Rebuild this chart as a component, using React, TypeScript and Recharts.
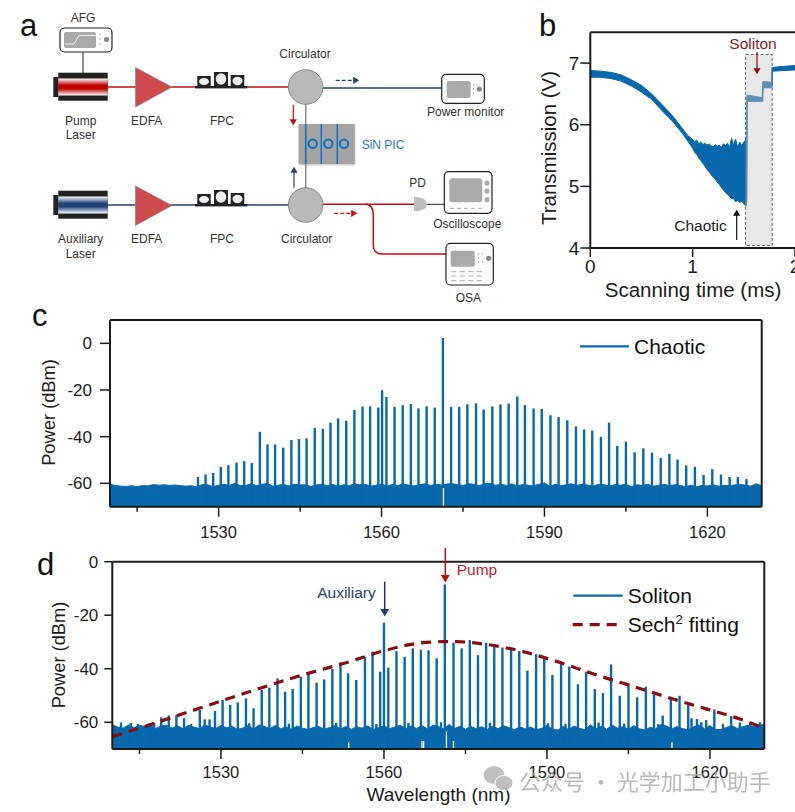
import {
  Area,
  Bar,
  ComposedChart,
  Line,
  ReferenceArea,
  ReferenceLine,
  XAxis,
  YAxis,
} from "recharts";

const BLUE = "#0868ac";
const DARK = "#1c1c1c";
const NAVY = "#24406f";
const RED = "#c00d12";
const FONT = "'Liberation Sans', Arial, sans-serif";

// panel b, transmission trace (ms, V)
const scanTimes = [
  0, 0.1, 0.2, 0.3, 0.4, 0.5, 0.6, 0.7, 0.8, 0.9, 0.95, 1.0, 1.02, 1.04, 1.06, 1.08, 1.1, 1.12, 1.14,
  1.16, 1.18, 1.2, 1.22, 1.24, 1.26, 1.28, 1.3, 1.32, 1.34, 1.36, 1.38, 1.4, 1.42, 1.44, 1.46, 1.48,
  1.5, 1.525, 1.53, 1.535, 1.68, 1.685, 1.69, 1.77, 1.775, 1.78, 1.9, 2.0,
];
const traceUpper = [
  6.88, 6.87, 6.85, 6.81, 6.73, 6.64, 6.5, 6.33, 6.15, 5.94, 5.83, 5.76, 5.72, 5.75, 5.69, 5.72, 5.68,
  5.7, 5.67, 5.69, 5.66, 5.64, 5.68, 5.65, 5.67, 5.63, 5.69, 5.66, 5.7, 5.64, 5.78, 5.68, 5.77, 5.63,
  5.72, 5.66, 5.72, 5.76, 6.48, 6.48, 6.44, 6.7, 6.7, 6.69, 6.93, 6.93, 6.95, 6.96,
];
const traceLower = [
  6.77, 6.77, 6.75, 6.71, 6.63, 6.53, 6.41, 6.23, 6.06, 5.86, 5.74, 5.62, 5.55, 5.52, 5.46, 5.42, 5.37,
  5.33, 5.27, 5.24, 5.19, 5.15, 5.12, 5.07, 5.03, 4.98, 4.94, 4.9, 4.87, 4.84, 4.8, 4.8, 4.75, 4.77,
  4.74, 4.76, 4.72, 4.68, 4.8, 6.38, 6.38, 6.38, 6.6, 6.6, 6.6, 6.87, 6.88, 6.89,
];

// panel c, chaotic comb
const chaoticLines = [
  1526.2, 1527.6, 1529.0, 1530.4, 1531.8, 1533.3, 1534.7, 1536.1, 1537.6, 1539.0, 1540.4, 1541.9, 1543.4, 1544.8,
  1546.2, 1547.7, 1549.2, 1550.6, 1552.0, 1553.5, 1555.0, 1556.5, 1557.9, 1559.4, 1560.1, 1560.9, 1562.4, 1563.9,
  1565.4, 1566.8, 1568.3, 1569.8, 1571.3, 1572.8, 1574.3, 1575.8, 1577.4, 1578.8, 1580.4, 1581.9, 1583.4, 1585.0,
  1586.4, 1588.0, 1589.5, 1591.1, 1592.6, 1594.2, 1595.8, 1597.3, 1598.8, 1600.4, 1601.9, 1603.4, 1605.0, 1606.6,
  1608.2, 1609.8, 1611.4, 1613.0, 1614.5, 1616.1, 1617.7, 1619.3, 1620.9, 1622.5, 1624.1, 1625.6, 1627.2,
];
const chaoticPeaks = [
  -57.3, -56.2, -55.5, -53, -52.2, -51.1, -50.5, -51.3, -37.9, -43.3, -43.3, -44.7, -41.4, -41, -40.7, -36.2, -36.6,
  -34, -32.2, -33.2, -28.5, -27.1, -27, -27.5, -20.1, -23, -27.2, -26.5, -26, -27.9, -27, -27.5, 2.3, -27.2, -27.2,
  -26.1, -25.7, -28.4, -27, -26.2, -25.8, -22.8, -26.5, -27.9, -28.1, -30.8, -31.6, -33, -35.6, -36.9, -37.4, -40.1,
  -34, -44, -42.1, -46.7, -45, -46.8, -49.1, -47.4, -49.8, -52.3, -52.9, -56.4, -53.9, -56.2, -57.3, -57.3, -58.2,
];
// one reading per nm from 1510 nm
const chaoticFloor = [
  -60.4, -60.9, -61.2, -61.3, -61, -61.4, -60.9, -61.1, -60.5, -60.8, -60.6, -60.9, -60.7, -61, -61.2, -61, -61.6,
  -60.5, -60.6, -61.4, -60.8, -60.4, -60.9, -59.9, -61, -60.9, -60.2, -61, -60.4, -60, -61.2, -60.8, -60.5, -61.1,
  -60.4, -60.7, -60.6, -61.3, -60.7, -60.4, -61, -60.5, -61.2, -60.6, -61, -60.2, -60.6, -60.4, -61.2, -60.8, -60.3,
  -61.1, -60.5, -60.9, -60.2, -60.8, -61.1, -60.6, -60.2, -60.9, -60.4, -60.7, -60.3, -60.1, -60.6, -60.9, -60.2,
  -60.4, -61, -60.2, -60, -60.8, -60.4, -60.9, -60.2, -61.2, -60.5, -60.8, -61, -60.4, -59.8, -61.3, -60.4, -61,
  -60.6, -60.2, -60.9, -60.3, -60.8, -61.1, -60.4, -60.6, -61.2, -60.5, -60.8, -60.4, -61.4, -60.6, -60.9, -60.4,
  -61.2, -60.9, -60.4, -61, -60.6, -60.9, -61.4, -60.8, -61.5, -60.9, -61.1, -60.6, -61.2, -60.9, -61, -60.7, -60.4,
  -60.8, -61.2, -60.2, -61,
];
const chaoticNotches = [1571.4];
const chaoticNotchTops = [-62];

// panel d, soliton comb
const solitonLines = [
  1519.0, 1520.4, 1521.8, 1523.2, 1526.1, 1528.9, 1530.3, 1531.7, 1533.1, 1534.6, 1536.0, 1537.5, 1538.9, 1540.4,
  1541.8, 1543.2, 1544.7, 1546.1, 1547.6, 1549.0, 1550.5, 1552.0, 1553.4, 1554.9, 1556.5, 1557.9, 1559.3, 1560.0,
  1560.8, 1562.3, 1563.8, 1565.3, 1566.8, 1568.2, 1569.7, 1571.2, 1572.8, 1574.3, 1575.8, 1577.3, 1578.8, 1580.3,
  1581.8, 1583.4, 1584.9, 1586.4, 1588.0, 1589.5, 1591.0, 1592.6, 1594.1, 1595.7, 1597.2, 1598.8, 1600.3, 1601.8,
  1603.4, 1605.0, 1606.6, 1608.2, 1609.7, 1611.3, 1612.8, 1614.4, 1616.0, 1617.6, 1619.3, 1620.8, 1623.9,
  // small noise spikes
  1511.6, 1513.4, 1514.7, 1516.8, 1517.7, 1524.5, 1527.0, 1527.9, 1535.2, 1542.5, 1551.2, 1558.6, 1564.5, 1570.5,
  1579.5, 1590.2, 1593.4, 1599.5, 1604.2, 1610.5, 1616.6, 1618.4, 1622.4, 1625.5, 1627.4, 1629.2,
];
const solitonPeaks = [
  -58.2, -57.5, -57.3, -58.5, -55.4, -55.8, -51.7, -53.5, -52.6, -51.1, -54.8, -47.9, -47.1, -43.6, -48.6, -47.6,
  -43, -41.3, -45.2, -44, -40.1, -37.6, -41.7, -44.2, -35.5, -33.6, -41.1, -22.8, -39.6, -33.4, -35.6, -32.4, -32.9,
  -33.1, -36.1, -8.5, -30.3, -32.4, -29.3, -34.9, -30.3, -31.5, -32.1, -33, -33.4, -40.7, -34.6, -36.1, -42.3, -38,
  -39.2, -45.8, -41.1, -47.6, -49.1, -38.4, -50.1, -45.6, -50.7, -46.7, -49.6, -57.5, -51.3, -50.1, -53.5, -58.8,
  -59.2, -55.2, -57.7,
  -60.1, -60.3, -60.6, -60.4, -60.2, -60.6, -58.9, -58.9, -60.4, -60.5, -60.2, -60.7, -60.3, -60,
  -60.2, -60.4, -60.6, -60.1, -60.5, -60.7, -58.5, -60, -60.6, -60.1, -60.4, -60,
];
const solitonFloor = [
  -61, -61.8, -62.2, -61, -62, -61.2, -61.6, -61, -62.3, -61.4, -61.1, -62.2, -61.3, -62.4, -61.2, -61.8, -62.4,
  -61, -61.7, -62.4, -61.2, -62.1, -61.5, -62.6, -62.2, -61.1, -62.6, -61, -61.5, -62.4, -61.2, -62.4, -61.8, -62.6,
  -61.4, -62.2, -62.7, -62, -61.6, -62.6, -62, -61.2, -62.5, -61.6, -62.6, -61.7, -62.2, -61.4, -62.7, -62, -61.3,
  -62.4, -61.8, -61.1, -62.4, -61.4, -62.3, -61.2, -62.5, -61.1, -61.6, -62.5, -60.8, -62.3, -61.5, -62.6, -61.6,
  -62.4, -61.7, -62.7, -61.5, -62.4, -61.3, -62, -62.8, -61.7, -62.5, -61.8, -62.8, -62.3, -61.2, -62.5, -62.9,
  -61.6, -62.7, -61.4, -62.3, -62.8, -61, -62.4, -61.5, -62.6, -61.1, -62.2, -61.7, -62.6, -61.3, -62.4, -62.9,
  -61.9, -62.4, -60.8, -61.4, -62.5, -61.6, -62.4, -62.8, -61.7, -61, -62.4, -61.3, -62.6, -62.8, -62, -61.2,
  -62.3, -61.7, -61.1, -61.6, -61.1, -60.9,
];
const solitonNotches = [1553.5, 1567.0, 1567.3, 1571.5, 1572.8, 1613.0];
const solitonNotchTops = [-67.5, -67, -67, -63.5, -67, -67.5];

// hand-read points along the dashed fit
const fitWavelengths = [
  1510, 1515.9, 1526, 1535.2, 1544.4, 1553.6, 1559.8, 1565.9, 1570.8, 1573.3, 1578.8, 1585.6, 1592.3, 1599.1, 1606.5,
  1613.2, 1619.3, 1625.5, 1630,
];
const fitPower = [
  -65.4, -61.6, -54.8, -48.6, -42.7, -37.4, -33.4, -30.6, -29.9, -29.9, -30.9, -33.6, -37.6, -42.3, -47, -51.3, -55,
  -58.8, -62.2,
];

const wavelengthTicks = [1515, 1530, 1545, 1560, 1575, 1590, 1605, 1620];
const labelledWavelengths = [1530, 1560, 1590, 1620];
const chaoticPowerTicks = [0, -20, -40, -60];
const solitonPowerTicks = [0, -20, -40, -60];
const timeTicks = [0, 1, 2];
const voltTicks = [4, 5, 6, 7];

type Row = { w: number; floor?: number; fit?: number; bar?: [number, number]; notch?: boolean };

function buildSpectrum(
  lines: number[],
  peaks: number[],
  floor: number[],
  notches: number[],
  notchTops: number[],
  fit?: { w: number[]; p: number[] },
): Row[] {
  const rows: Row[] = floor.map((v, i) => ({ w: 1510 + i, floor: v }));
  lines.forEach((w, i) => rows.push({ w, bar: [-70, peaks[i]] }));
  notches.forEach((w, i) => rows.push({ w, bar: [-70, notchTops[i]], notch: true }));
  fit?.w.forEach((w, i) => rows.push({ w, fit: fit.p[i] }));
  return rows.sort((a, b) => a.w - b.w);
}

const chaoticRows = buildSpectrum(chaoticLines, chaoticPeaks, chaoticFloor, chaoticNotches, chaoticNotchTops);
const solitonRows = buildSpectrum(solitonLines, solitonPeaks, solitonFloor, solitonNotches, solitonNotchTops, {
  w: fitWavelengths,
  p: fitPower,
});
const traceRows = scanTimes.map((t, i) => ({ t, band: [traceLower[i], traceUpper[i]] }));

function WavelengthTick({ x, y, payload, labelDy }: any) {
  const major = labelledWavelengths.includes(payload.value);
  return (
    <g>
      <line x1={x} x2={x} y1={y} y2={y + (major ? 10 : 5)} stroke={DARK} strokeWidth={1.5} />
      {major && (
        <text x={x} y={y + labelDy} textAnchor="middle" fontSize={16.5} fill={DARK} fontFamily={FONT}>
          {payload.value}
        </text>
      )}
    </g>
  );
}

// comb lines keep a fixed pixel width whatever the row spacing is
function CombLine(props: any) {
  const { x, y, width, height, payload } = props;
  if (!height) return null;
  const w = payload.notch ? 1.3 : 2.4;
  return <rect x={x + width / 2 - w / 2} y={y} width={w} height={height} fill={payload.notch ? "#fff" : BLUE} />;
}

function yTitle(value: string, x: number, y: number, size: number) {
  return {
    content: () => (
      <text
        transform={`rotate(-90 ${x} ${y})`}
        x={x}
        y={y}
        textAnchor="middle"
        dominantBaseline="central"
        fontSize={size}
        fill={DARK}
        fontFamily={FONT}
      >
        {value}
      </text>
    ),
  };
}

function xTitle(value: string, x: number, y: number, size: number) {
  return {
    content: () => (
      <text x={x} y={y} textAnchor="middle" fontSize={size} fill={DARK} fontFamily={FONT}>
        {value}
      </text>
    ),
  };
}

function Spectrum({
  rows,
  top,
  height,
  left,
  right,
  marginTop,
  axisHeight,
  yMax,
  powerTicks,
  labelDy,
  tickLen,
  tickGap,
  xLabel,
  yLabel,
}: any) {
  return (
    <div style={{ position: "absolute", left: 0, top }}>
      <ComposedChart
        width={795}
        height={height}
        data={rows}
        margin={{ top: marginTop, right: 795 - right, bottom: 0, left: left - 70 }}
      >
        <XAxis
          dataKey="w"
          type="number"
          domain={[1510, 1630]}
          ticks={wavelengthTicks}
          interval={0}
          tick={<WavelengthTick labelDy={labelDy} />}
          tickSize={0}
          tickMargin={0}
          tickLine={false}
          axisLine={{ stroke: DARK, strokeWidth: 2 }}
          height={axisHeight}
          label={xLabel}
        />
        <YAxis
          type="number"
          domain={[-70, yMax]}
          ticks={powerTicks}
          interval={0}
          width={70}
          tickSize={tickLen}
          tickMargin={tickGap}
          tick={{ fontSize: 17, fill: DARK, fontFamily: FONT }}
          tickLine={{ stroke: DARK, strokeWidth: 1.5 }}
          axisLine={{ stroke: DARK, strokeWidth: 2 }}
          label={yLabel}
        />
        <Area
          dataKey="floor"
          type="linear"
          baseValue={-70}
          connectNulls
          stroke={BLUE}
          strokeWidth={1}
          fill={BLUE}
          fillOpacity={1}
          dot={false}
          activeDot={false}
          isAnimationActive={false}
        />
        <Bar dataKey="bar" shape={<CombLine />} isAnimationActive={false} />
        <Line
          dataKey="fit"
          type="monotone"
          connectNulls
          stroke="#8a0c10"
          strokeWidth={3.2}
          strokeDasharray="10 7"
          dot={false}
          activeDot={false}
          isAnimationActive={false}
        />
        <ReferenceLine x={1630} stroke={DARK} strokeWidth={2} />
        <ReferenceLine y={yMax} stroke={DARK} strokeWidth={2} />
      </ComposedChart>
    </div>
  );
}

function TracePanel() {
  return (
    <div style={{ position: "absolute", left: 520, top: 0 }}>
      <ComposedChart
        width={275}
        height={310}
        data={traceRows}
        margin={{ top: 32.3, right: 0, bottom: 0, left: 10.3 }}
      >
        <XAxis
          dataKey="t"
          type="number"
          domain={[0, 2]}
          ticks={timeTicks}
          interval={0}
          height={62}
          tickSize={9}
          tickMargin={3}
          tick={{ fontSize: 19, fill: DARK, fontFamily: FONT }}
          tickLine={{ stroke: DARK, strokeWidth: 1.5 }}
          axisLine={{ stroke: DARK, strokeWidth: 2 }}
          label={xTitle("Scanning time (ms)", 173, 296.5, 20.5)}
        />
        <YAxis
          type="number"
          domain={[4, 7.5]}
          ticks={voltTicks}
          interval={0}
          width={60}
          tickSize={10}
          tickMargin={1}
          tick={{ fontSize: 19, fill: DARK, fontFamily: FONT }}
          tickLine={{ stroke: DARK, strokeWidth: 1.5 }}
          axisLine={{ stroke: DARK, strokeWidth: 2 }}
          label={yTitle("Transmission (V)", 28.3, 148, 20.5)}
        />
        <Area
          dataKey="band"
          type="linear"
          stroke={BLUE}
          strokeWidth={1}
          fill={BLUE}
          fillOpacity={1}
          dot={false}
          activeDot={false}
          isAnimationActive={false}
        />
        <ReferenceArea
          x1={1.517}
          x2={1.777}
          y1={4.04}
          y2={7.14}
          fill="#c8c8c8"
          fillOpacity={0.42}
          stroke="#666666"
          strokeDasharray="3 2"
        />
        <ReferenceLine y={7.5} stroke={DARK} strokeWidth={2} />
      </ComposedChart>
    </div>
  );
}

function Laser({ y, id }: { y: number; id: string }) {
  return (
    <g>
      <rect x={53.3} y={y - 10} width={5} height={20} fill="#222" />
      <rect x={58.3} y={y - 14.3} width={49.4} height={28} fill="#222" />
      <rect x={58.3} y={y - 8.5} width={49.4} height={17} fill={`url(#${id})`} />
    </g>
  );
}

function Fpc({ y }: { y: number }) {
  return (
    <g>
      <rect x={197.3} y={y - 11} width={13.4} height={11} fill="#222" />
      <rect x={214} y={y - 15} width={14} height={15} fill="#222" />
      <rect x={230.7} y={y - 12} width={13.6} height={12} fill="#222" />
      <ellipse cx={204} cy={y - 5.5} rx={5} ry={3.5} fill="#eee" />
      <ellipse cx={221} cy={y - 8} rx={5.3} ry={5.8} fill="#eee" />
      <ellipse cx={237.5} cy={y - 6} rx={5} ry={4.2} fill="#eee" />
      <rect x={195} y={y - 1} width={52.3} height={2.4} fill="#222" />
    </g>
  );
}

function Device({ x, y, w, h }: { x: number; y: number; w: number; h: number }) {
  return <rect x={x} y={y} width={w} height={h} rx={4.5} fill="#fff" stroke="#222" strokeWidth={1.2} />;
}

function Speckles({ x, ys }: { x: number; ys: number[] }) {
  return (
    <g>
      {ys.map((y) => (
        <circle key={y} cx={x} cy={y} r={0.7} fill="#999" />
      ))}
    </g>
  );
}

function Txt({ x, y, children, size = 12, fill = "#333", anchor = "middle" }: any) {
  return (
    <text x={x} y={y} fontSize={size} fill={fill} textAnchor={anchor} fontFamily={FONT}>
      {children}
    </text>
  );
}

function Overlay() {
  return (
    <svg
      width={795}
      height={812}
      style={{ position: "absolute", left: 0, top: 0, pointerEvents: "none" }}
    >
      <defs>
        <linearGradient id="redGlow" x1="0" x2="0" y1="0" y2="1">
          <stop offset="0" stopColor="#ffffff" />
          <stop offset="0.4" stopColor="#c00000" />
          <stop offset="0.6" stopColor="#c00000" />
          <stop offset="1" stopColor="#ffffff" />
        </linearGradient>
        <linearGradient id="blueGlow" x1="0" x2="0" y1="0" y2="1">
          <stop offset="0" stopColor="#ffffff" />
          <stop offset="0.4" stopColor="#1f3f78" />
          <stop offset="0.6" stopColor="#1f3f78" />
          <stop offset="1" stopColor="#ffffff" />
        </linearGradient>
        <marker id="hRed" markerWidth="6" markerHeight="6" refX="4" refY="3" orient="auto">
          <path d="M0,0 L5,3 L0,6 Z" fill={RED} />
        </marker>
        <marker id="hNavy" markerWidth="6" markerHeight="6" refX="4" refY="3" orient="auto">
          <path d="M0,0 L5,3 L0,6 Z" fill={NAVY} />
        </marker>
        <marker id="hBlack" markerWidth="6" markerHeight="6" refX="4" refY="3" orient="auto">
          <path d="M0,0 L5,3 L0,6 Z" fill="#111" />
        </marker>
        <marker id="hMaroon" markerWidth="6" markerHeight="6" refX="4" refY="3" orient="auto">
          <path d="M0,0 L5,3 L0,6 Z" fill="#8a0c10" />
        </marker>
        <filter id="chipShadow" x="-10%" y="-10%" width="120%" height="120%">
          <feGaussianBlur stdDeviation="1" />
        </filter>
      </defs>

      {/* panel letters */}
      <Txt x={20} y={36} size={31} fill="#111" anchor="start">a</Txt>
      <Txt x={539} y={36} size={31} fill="#111" anchor="start">b</Txt>
      <Txt x={32} y={326} size={31} fill="#111" anchor="start">c</Txt>
      <Txt x={37} y={575} size={31} fill="#111" anchor="start">d</Txt>

      {/* panel a, fibre paths */}
      <line x1={108} x2={289} y1={87} y2={87} stroke={RED} strokeWidth={1.5} />
      <line x1={323} x2={442} y1={88} y2={88} stroke={NAVY} strokeWidth={1.4} />
      <line x1={108} x2={289} y1={205} y2={205} stroke={NAVY} strokeWidth={1.4} />
      <line x1={323} x2={414} y1={204.3} y2={204.3} stroke={RED} strokeWidth={1.5} />
      <path
        d="M365,204.3 Q373.3,204.3 373.3,215 L373.3,245 Q373.3,254 382,254 L446,254"
        fill="none"
        stroke={RED}
        strokeWidth={1.5}
      />
      <line x1={83} x2={83} y1={52} y2={73} stroke="#222" strokeWidth={1} />
      <line x1={427} x2={445} y1={204.3} y2={204.3} stroke="#222" strokeWidth={1} />

      {/* AFG */}
      <Device x={60} y={28} w={52} h={24} />
      <rect x={64} y={32} width={32} height={16} rx={2} fill="#aaa" />
      <polyline points="65,44 74,44 79,35.5 96,35.5" fill="none" stroke="#eee" strokeWidth={1} />
      <circle cx={106.5} cy={39.5} r={2.5} fill="#888" />
      <Speckles x={100} ys={[34, 39, 44]} />
      <Txt x={83} y={22}>AFG</Txt>

      <Laser y={87} id="redGlow" />
      <Laser y={205} id="blueGlow" />
      <polygon points="135.5,67.5 135.5,107 172,87" fill="#cf4b4b" stroke="#888" strokeWidth={0.7} />
      <polygon points="135.5,186 135.5,225.5 172,205.5" fill="#cf4b4b" stroke="#888" strokeWidth={0.7} />
      <Fpc y={87} />
      <Fpc y={205} />

      {/* SiN chip */}
      <rect x={299} y={125} width={56} height={40} fill="#888" filter="url(#chipShadow)" opacity={0.6} />
      <rect x={298.7} y={124} width={56} height={40} fill="#a6a3a3" />
      <line x1={305.7} x2={305.7} y1={104} y2={188} stroke="#8a8a8a" strokeWidth={1.5} />
      {[305.7, 321.3, 337.3].map((x) => (
        <line key={x} x1={x} x2={x} y1={124} y2={164} stroke="#0a72c0" strokeWidth={1.5} />
      ))}
      {[312.7, 328.3, 344].map((x) => (
        <circle key={x} cx={x} cy={143.7} r={4.2} fill="none" stroke="#0a72c0" strokeWidth={2} />
      ))}
      <Txt x={361.7} y={148.5} fill="#1a7fc4" anchor="start">SiN PIC</Txt>

      {/* circulators */}
      <circle cx={305.7} cy={87} r={17.3} fill="#b9b9b9" stroke="#888" />
      <circle cx={305.7} cy={205} r={17.3} fill="#b9b9b9" stroke="#888" />
      <line x1={293.3} x2={293.3} y1={104.7} y2={124} stroke={RED} strokeWidth={1.2} markerEnd="url(#hRed)" />
      <line x1={294} x2={294} y1={187.7} y2={168} stroke={NAVY} strokeWidth={1.2} markerEnd="url(#hNavy)" />
      <line x1={335.7} x2={358} y1={80.3} y2={80.3} stroke={NAVY} strokeWidth={1.2} strokeDasharray="4 2" markerEnd="url(#hNavy)" />
      <line x1={334.3} x2={356} y1={213.3} y2={213.3} stroke={RED} strokeWidth={1.2} strokeDasharray="4 2" markerEnd="url(#hRed)" />

      {/* power monitor */}
      <Device x={441.7} y={74.3} w={42.6} h={29} />
      <rect x={446.7} y={81} width={24} height={17} rx={2} fill="#aaa" />
      <circle cx={479.3} cy={89} r={2.6} fill="#888" />
      <Speckles x={473.5} ys={[85, 89, 93]} />

      {/* PD and oscilloscope */}
      <path d="M414,197 L418,197 Q427,199 427,204.3 Q427,209.5 418,211 L414,211 Z" fill="#bdbdbd" />
      <Device x={444.3} y={171.7} w={47.7} h={41.6} />
      <rect x={449.3} y={178.3} width={33} height={24} rx={3} fill="#aaa" />
      {[183, 191, 199.7].map((y) => (
        <circle key={y} cx={487} cy={y} r={2.6} fill="#aaa" />
      ))}
      <line x1={450} x2={483} y1={208.3} y2={208.3} stroke="#aaa" strokeWidth={1} strokeDasharray="4 3" />

      {/* OSA */}
      <Device x={446} y={243.3} w={47.3} h={41.7} />
      <rect x={450.7} y={250.7} width={24} height={16} rx={2} fill="#aaa" />
      <circle cx={488.7} cy={258.3} r={2.6} fill="#888" />
      <Speckles x={478.5} ys={[254, 258, 262]} />
      <Speckles x={482.5} ys={[254, 262]} />
      {[271.7, 276, 280.7].map((y) => (
        <line key={y} x1={451} x2={484} y1={y} y2={y} stroke="#aaa" strokeWidth={1} strokeDasharray="5.5 3" />
      ))}

      <Txt x={305} y={58}>Circulator</Txt>
      <Txt x={306.7} y={243}>Circulator</Txt>
      <Txt x={80.7} y={125}>Pump</Txt>
      <Txt x={80.7} y={139}>Laser</Txt>
      <Txt x={80.7} y={243}>Auxiliary</Txt>
      <Txt x={80.7} y={257.5}>Laser</Txt>
      <Txt x={146.7} y={125}>EDFA</Txt>
      <Txt x={146.7} y={243}>EDFA</Txt>
      <Txt x={222} y={125}>FPC</Txt>
      <Txt x={222} y={243}>FPC</Txt>
      <Txt x={465.7} y={116}>Power monitor</Txt>
      <Txt x={417.7} y={186.5}>PD</Txt>
      <Txt x={467.3} y={228}>Oscilloscope</Txt>
      <Txt x={468.3} y={301.5}>OSA</Txt>

      {/* panel b notes */}
      <Txt x={753} y={48.5} size={15.5} fill="#8a1a1e">Soliton</Txt>
      <line x1={757} x2={757} y1={52} y2={73} stroke="#8a0c10" strokeWidth={1.2} markerEnd="url(#hMaroon)" />
      <Txt x={700.5} y={231} size={15.5} fill="#222">Chaotic</Txt>
      <line x1={736.7} x2={736.7} y1={240} y2={211} stroke="#111" strokeWidth={1.2} markerEnd="url(#hBlack)" />

      {/* panel c legend */}
      <line x1={580} x2={629} y1={346.3} y2={346.3} stroke={BLUE} strokeWidth={2.2} />
      <Txt x={634} y={353.5} size={21} fill="#111" anchor="start">Chaotic</Txt>

      {/* panel d notes and legend */}
      <Txt x={346.5} y={598} size={15.5} fill="#2c4170">Auxiliary</Txt>
      <line x1={384.7} x2={384.7} y1={581.7} y2={615} stroke="#1f2d5c" strokeWidth={1.5} markerEnd="url(#hNavy)" />
      <line x1={445.3} x2={445.3} y1={548} y2={581} stroke={RED} strokeWidth={1.5} markerEnd="url(#hRed)" />
      <Txt x={456.7} y={575} size={15.5} fill="#c8202a" anchor="start">Pump</Txt>
      <line x1={573.3} x2={622.7} y1={595.7} y2={595.7} stroke={BLUE} strokeWidth={2.2} />
      <Txt x={627.7} y={603.3} size={21} fill="#111" anchor="start">Soliton</Txt>
      <line x1={572.7} x2={619} y1={624.7} y2={624.7} stroke="#8a0c10" strokeWidth={3.2} strokeDasharray="10 7" />
      <text x={627.7} y={632.3} fontSize={21} fill="#111" fontFamily={FONT}>
        Sech<tspan fontSize={13} dy={-8}>2</tspan>
        <tspan dy={8}> fitting</tspan>
      </text>

      {/* watermark */}
      <g fill="#b4b4b4" opacity={0.85}>
        <ellipse cx={494} cy={775} rx={10.5} ry={9} />
        <ellipse cx={504} cy={783} rx={9} ry={7.5} stroke="#fff" strokeWidth={1} />
      </g>
      <text
        x={519}
        y={790}
        fontSize={22}
        fill="#a8a8a8"
        opacity={0.8}
        fontFamily="'Noto Sans CJK SC', sans-serif"
      >
        公众号 · 光学加工小助手
      </text>
    </svg>
  );
}

export default function App() {
  return (
    <div
      style={{
        position: "absolute",
        left: 0,
        top: 0,
        width: 795,
        height: 812,
        overflow: "hidden",
        background: "#fff",
        fontFamily: FONT,
      }}
    >
      <TracePanel />
      <Spectrum
        rows={chaoticRows}
        top={310}
        height={240}
        left={110}
        right={761.7}
        marginTop={10}
        axisHeight={43.3}
        yMax={10}
        powerTicks={chaoticPowerTicks}
        labelDy={31}
        tickLen={10}
        tickGap={8}
        yLabel={yTitle("Power (dBm)", 48, 102.5, 18.3)}
      />
      <Spectrum
        rows={solitonRows}
        top={540}
        height={272}
        left={112.3}
        right={764.3}
        marginTop={21.7}
        axisHeight={63}
        yMax={0}
        powerTicks={solitonPowerTicks}
        labelDy={29}
        tickLen={8}
        tickGap={6}
        xLabel={xTitle("Wavelength (nm)", 438.5, 261, 19)}
        yLabel={yTitle("Power (dBm)", 58, 115, 18.3)}
      />
      <Overlay />
    </div>
  );
}
